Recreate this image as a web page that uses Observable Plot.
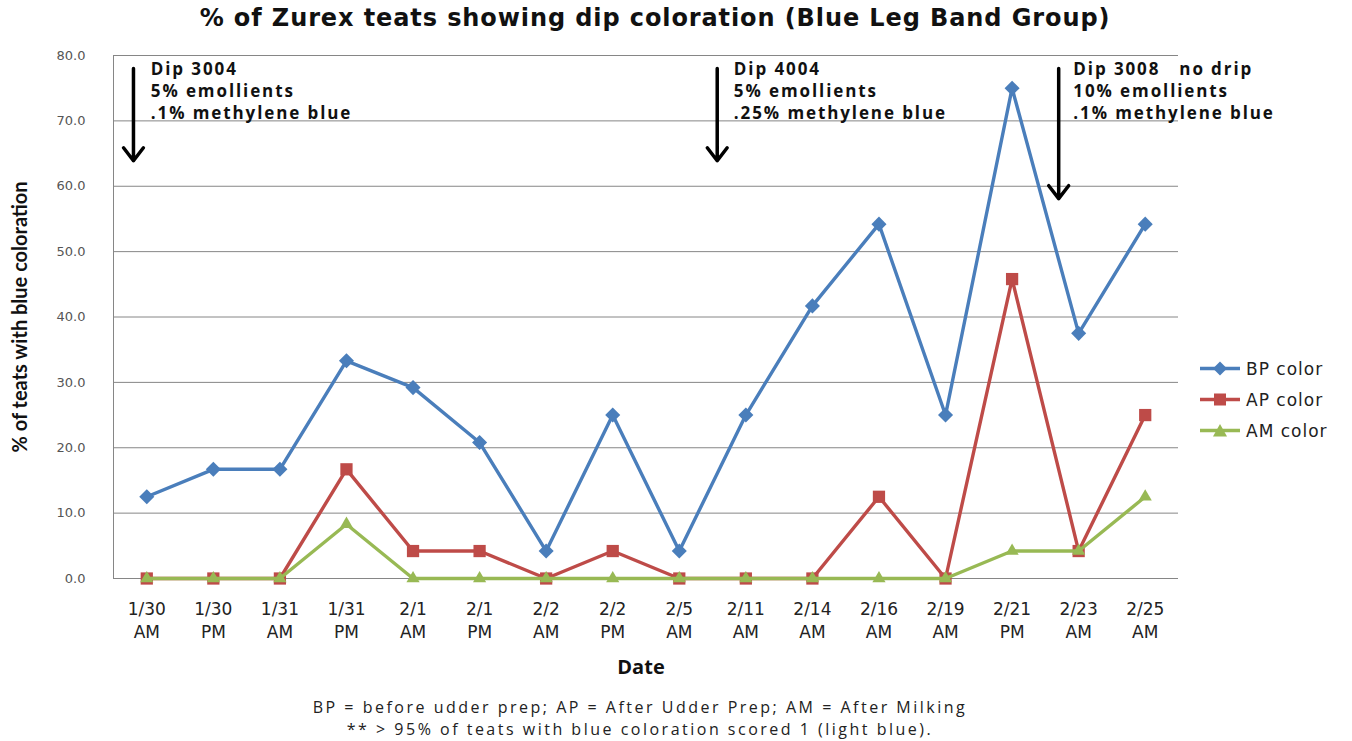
<!DOCTYPE html>
<html>
<head>
<meta charset="utf-8">
<script src="https://cdn.jsdelivr.net/npm/d3@7"></script>
<script src="https://cdn.jsdelivr.net/npm/@observablehq/plot@0.6"></script>
<style>
  body { margin: 0; background: #fff; width: 1352px; height: 741px; position: relative; overflow: hidden; }
  #title { position: absolute; left: 0; top: 4px; width: 1310px; text-align: center; font: bold 24px "DejaVu Sans", sans-serif; letter-spacing: 0.9px; color: #111; }
  #chart { position: absolute; left: 0; top: 42px; }
  #legend { position: absolute; left: 1200px; top: 353px; font: 17px "DejaVu Sans", sans-serif; letter-spacing: 1px; color: #222; }
  #legend div { height: 31px; display: flex; align-items: center; }
  #legend span { margin-left: 4px; }
  #caption { position: absolute; left: 0; top: 696px; width: 1280px; text-align: center; font: 16px "Open Sans", sans-serif; color: #222; line-height: 22px; letter-spacing: 2.5px; }
</style>
</head>
<body>
<div id="title">% of Zurex teats showing dip coloration (Blue Leg Band Group)</div>
<div id="chart"></div>
<div id="legend"></div>
<div id="caption">BP = before udder prep; AP = After Udder Prep; AM = After Milking<br>** &gt; 95% of teats with blue coloration scored 1 (light blue).</div>
<script>
// ---- data ----
const dates = ["1/30 AM","1/30 PM","1/31 AM","1/31 PM","2/1 AM","2/1 PM","2/2 AM","2/2 PM","2/5 AM","2/11 AM","2/14 AM","2/16 AM","2/19 AM","2/21 PM","2/23 AM","2/25 AM"];
const bpColor = [12.5,16.7,16.7,33.3,29.2,20.8,4.2,25.0,4.2,25.0,41.7,54.2,25.0,75.0,37.5,54.2];
const apColor = [0,0,0,16.7,4.2,4.2,0,4.2,0,0,0,12.5,0,45.8,4.2,25.0];
const amColor = [0,0,0,8.3,0,0,0,0,0,0,0,0,0,4.2,4.2,12.5];
const seriesNames = ["BP color","AP color","AM color"];
const yTicks = [0,10,20,30,40,50,60,70,80];

// annotations (x in category-index units, y in %)
const annoArrowX = [-0.2, 8.57, 13.7];
const annoArrowTop = [78.0, 78.0, 78.0];
const annoArrowBottom = [63.9, 63.9, 58.1];
const annoTextX = [0.06, 8.82, 13.92];
const annoText = [
  "Dip 3004\n5% emollients\n.1% methylene blue",
  "Dip 4004\n5% emollients\n.25% methylene blue",
  "Dip 3008   no drip\n10% emollients\n.1% methylene blue"
];

// ---- build tables ----
const colors = {"BP color":"#4A7EBB","AP color":"#BE4B48","AM color":"#98B954"};
const symbols = {"BP color":"diamond2","AP color":"square2","AM color":"triangle2"};
const radii = {"BP color":6.8,"AP color":7.8,"AM color":6.3};
const valuesBy = {"BP color":bpColor,"AP color":apColor,"AM color":amColor};
const rows = name => dates.map((d,i)=>({i, date:d, value:valuesBy[name][i]}));
const annos = annoText.map((t,k)=>({t, tx:annoTextX[k], ax:annoArrowX[k], y1:annoArrowTop[k], y2:annoArrowBottom[k]}));

const seriesMarks = seriesNames.flatMap(name => [
  Plot.line(rows(name), {x:"i", y:"value", stroke:colors[name], strokeWidth:3.4}),
  Plot.dot(rows(name), {x:"i", y:"value", symbol:symbols[name], r:radii[name], fill:colors[name], stroke:"none"})
]);

const chart = Plot.plot({
  width: 1352,
  height: 650,
  marginLeft: 113,
  marginRight: 174,
  marginTop: 13,
  marginBottom: 114,
  style: {background:"transparent", overflow:"visible"},
  x: {domain:[-0.5, dates.length-0.5]},
  y: {domain:[0,80]},
  marks: [
    Plot.gridY(yTicks, {stroke:"#868686", strokeOpacity:1, strokeWidth:1}),
    Plot.ruleX([-0.5], {y1:0, y2:80, stroke:"#868686", strokeWidth:1}),
    Plot.axisY(yTicks, {tickSize:0, tickPadding:28, tickFormat:d=>d.toFixed(1), fontSize:13, fill:"#555", fontFamily:"DejaVu Sans", label:null}),
    Plot.axisX(d3.range(dates.length), {tickSize:0, tickPadding:20, tickFormat:i=>dates[i].replace(" ","\n"), fontSize:17, lineHeight:1.35, fill:"#222", fontFamily:"DejaVu Sans", label:null}),
    ...seriesMarks,
    Plot.arrow(annos, {x1:"ax", x2:"ax", y1:"y1", y2:"y2", stroke:"#000", strokeWidth:3.5, headLength:7, headAngle:75, bend:0}),
    Plot.text(annos, {x:"tx", y:80, text:"t", textAnchor:"start", lineAnchor:"top", lineHeight:1.3, dy:4, fontSize:17, fontWeight:"bold", fontFamily:"Open Sans", fill:"#111"}),
    Plot.text(["% of teats with blue coloration"], {frameAnchor:"left", textAnchor:"middle", rotate:-90, dx:-93, fontSize:20, fontWeight:"bold", fontFamily:"Lato", fill:"#111"}),
    Plot.text(["Date"], {frameAnchor:"bottom", dy:95, dx:-5, fontSize:20, fontWeight:"bold", fontFamily:"Open Sans", fill:"#111"})
  ]
});
document.getElementById("chart").appendChild(chart);

// widen annotation lettering like the original
d3.select(chart).selectAll("text")
  .filter(function() { return this.textContent.startsWith("Dip"); })
  .style("letter-spacing", "1.9px");

// legend
const leg = document.getElementById("legend");
for (const name of seriesNames) {
  const row = document.createElement("div");
  const c = colors[name];
  let marker;
  if (name === "BP color") marker = `<polygon points="20,0.5 27,7.5 20,14.5 13,7.5" fill="${c}"/>`;
  else if (name === "AP color") marker = `<rect x="14" y="1.5" width="12" height="12" fill="${c}"/>`;
  else marker = `<polygon points="20,1 27,13.5 13,13.5" fill="${c}"/>`;
  row.innerHTML = `<svg width="42" height="15"><line x1="0" y1="7.5" x2="40" y2="7.5" stroke="${c}" stroke-width="3.4"/>${marker}</svg><span>${name}</span>`;
  leg.appendChild(row);
}
</script>
</body>
</html>
